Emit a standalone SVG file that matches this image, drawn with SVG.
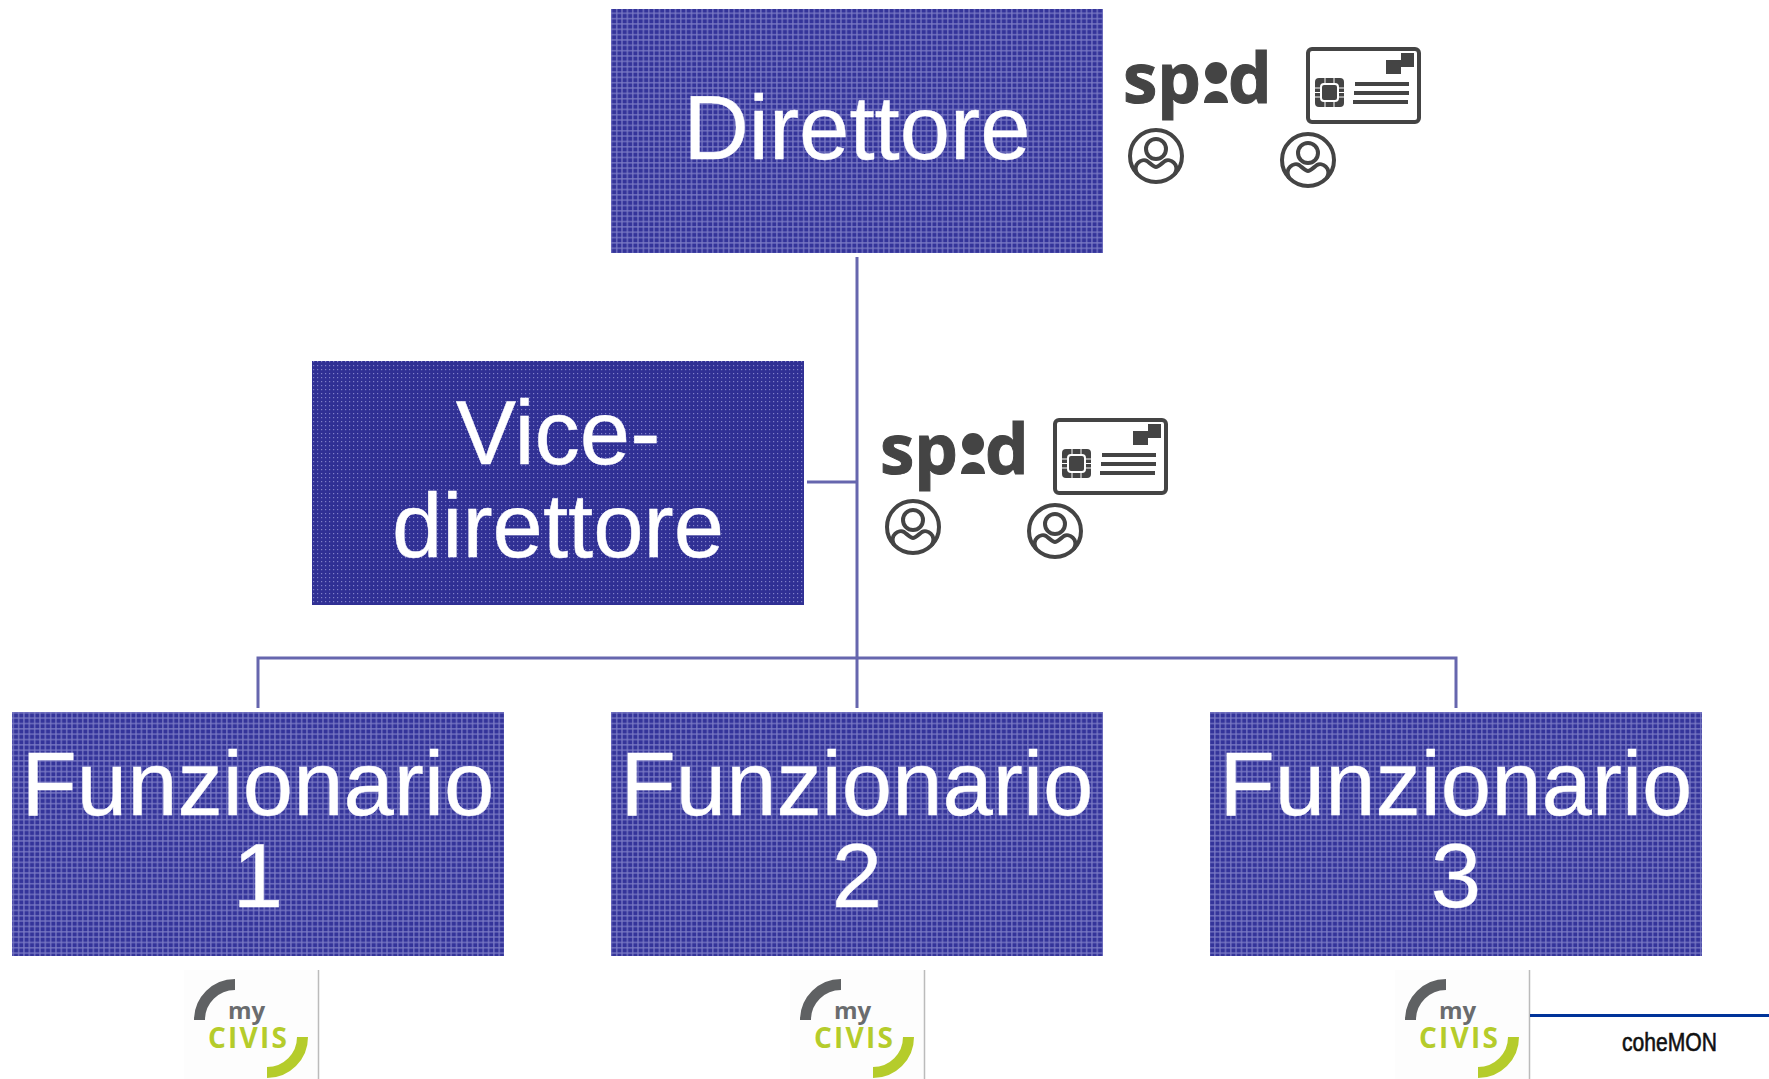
<svg xmlns="http://www.w3.org/2000/svg" width="1769" height="1079" viewBox="0 0 1769 1079">
<style>
.lbl{font-family:"Liberation Sans",Arial,sans-serif;font-size:90.500px;fill:#fff;stroke:#fff;stroke-width:.4px;text-anchor:middle}
.spd{font-family:"Open Sans","Noto Sans",sans-serif;font-weight:700;font-size:69px;fill:#444;stroke:#444;stroke-width:1px}
.ic{fill:none;stroke:#444;stroke-width:4}
.conn{fill:none;stroke:#6666ae;stroke-width:3}
.my{font-family:"Open Sans","Noto Sans",sans-serif;font-weight:700;font-size:24px;fill:#6a6c6e}
.civis{font-family:"Open Sans","Noto Sans",sans-serif;font-weight:700;font-size:28px;letter-spacing:2.200px;fill:#b5cc2b}
</style>
<defs>
<pattern id="p1" width="5.34" height="5.34" patternUnits="userSpaceOnUse">
<rect width="5.34" height="5.34" fill="#34349a"/>
<rect x="0" y="2" width="5.34" height="1.200" fill="#7c7cc6"/>
<rect x="2" y="0" width="1.200" height="5.34" fill="#7c7cc6"/>
</pattern>
<pattern id="p2" width="4" height="4" patternUnits="userSpaceOnUse">
<rect width="4" height="4" fill="#303094"/>
<rect x="1" y="1" width="1.200" height="1.200" fill="#8080c8"/>
</pattern>
<g id="person">
<circle cx="0" cy="0" r="26" class="ic"/>
<circle cx="0" cy="-7" r="10" class="ic"/>
<path d="M-19 18C-24 8-14 2-9 5C-5 8-2 11 0 11C2 11 5 8 9 5C14 2 24 8 19 18" class="ic"/>
</g>
<g id="card">
<rect x="1" y="1" width="111" height="73" rx="4" class="ic"/>
<path d="M86 12h15v-7h13v14h-13v7h-15z" fill="#444" transform="translate(-7 0)"/>
<rect x="8" y="30" width="29" height="29" rx="4" fill="#444"/>
<path d="M8 40h6M8 44.500h6M8 49h6M31 40h6M31 44.500h6M31 49h6M18 30v5M27 30v5M18 54v5M27 54v5" stroke="#fff" stroke-width="1"/>
<rect x="14" y="36" width="17" height="17" rx="3" fill="#444" stroke="#fff" stroke-width="2"/>
<path d="M48 36h54M47 45h55M46 54h55" class="ic" stroke-width="3"/>
</g>
</defs>
<g id="connectors">
<path class="conn" d="M857 257V658M807 482H857M258 708V658H1456V708M857 658V708"/>
</g>
<g id="direttore"><rect x="611" y="9" width="492" height="244" fill="url(#p1)"/><text class="lbl" x="857" y="159">Direttore</text></g>
<g id="vice"><rect x="312" y="361" width="492" height="244" fill="url(#p2)"/><text class="lbl" x="558" y="464">Vice-</text><text class="lbl" x="558" y="557">direttore</text></g>
<g id="funz1"><rect x="12" y="712" width="492" height="244" fill="url(#p1)"/><text class="lbl" x="258" y="815">Funzionario</text><text class="lbl" x="258" y="907">1</text></g>
<g id="funz2"><rect x="611" y="712" width="492" height="244" fill="url(#p1)"/><text class="lbl" x="857" y="815">Funzionario</text><text class="lbl" x="857" y="907">2</text></g>
<g id="funz3"><rect x="1210" y="712" width="492" height="244" fill="url(#p1)"/><text class="lbl" x="1456" y="815">Funzionario</text><text class="lbl" x="1456" y="907">3</text></g>
<g id="icons1">
<text class="spd" y="103"><tspan x="1123">sp</tspan><tspan x="1228">d</tspan></text>
<circle cx="1216" cy="73" r="11" fill="#444"/><path d="M1204 103a12 12 0 0 1 24 0z" fill="#444"/>
<use href="#card" x="1307" y="48"/><use href="#person" x="1156" y="156"/><use href="#person" x="1308" y="160"/>
</g>
<g id="icons2" transform="translate(-243 371)">
<text class="spd" y="103"><tspan x="1123">sp</tspan><tspan x="1228">d</tspan></text>
<circle cx="1216" cy="73" r="11" fill="#444"/><path d="M1204 103a12 12 0 0 1 24 0z" fill="#444"/>
<use href="#card" x="1297" y="48"/><use href="#person" x="1156" y="156"/><use href="#person" x="1298" y="160"/>
</g>
<g id="civis1" transform="translate(-1211 0)"><rect x="1395" y="970" width="134" height="109" fill="#fdfdfd"/><path d="M1529.500 970V1079" stroke="#bbb" stroke-width="1.500"/><path d="M1410.500 1020A35.500 35.500 0 0 1 1446 984.500" fill="none" stroke="#5f6163" stroke-width="11"/><path d="M1513.500 1037A35.500 35.500 0 0 1 1478 1072.500" fill="none" stroke="#b5cc2b" stroke-width="11"/><text class="my" x="1439" y="1019">my</text><text class="civis" x="1419" y="1048">CIVIS</text></g>
<g id="civis2" transform="translate(-605 0)"><rect x="1395" y="970" width="134" height="109" fill="#fdfdfd"/><path d="M1529.500 970V1079" stroke="#bbb" stroke-width="1.500"/><path d="M1410.500 1020A35.500 35.500 0 0 1 1446 984.500" fill="none" stroke="#5f6163" stroke-width="11"/><path d="M1513.500 1037A35.500 35.500 0 0 1 1478 1072.500" fill="none" stroke="#b5cc2b" stroke-width="11"/><text class="my" x="1439" y="1019">my</text><text class="civis" x="1419" y="1048">CIVIS</text></g>
<g id="civis3"><rect x="1395" y="970" width="134" height="109" fill="#fdfdfd"/><path d="M1529.500 970V1079" stroke="#bbb" stroke-width="1.500"/><path d="M1410.500 1020A35.500 35.500 0 0 1 1446 984.500" fill="none" stroke="#5f6163" stroke-width="11"/><path d="M1513.500 1037A35.500 35.500 0 0 1 1478 1072.500" fill="none" stroke="#b5cc2b" stroke-width="11"/><text class="my" x="1439" y="1019">my</text><text class="civis" x="1419" y="1048">CIVIS</text></g>
<g id="cohemon"><path d="M1530 1015.500H1769" stroke="#003399" stroke-width="3"/><text x="1622" y="1051" font-family="'Liberation Sans Narrow','Liberation Sans',sans-serif" font-size="25" fill="#111" stroke="#111" stroke-width=".6" textLength="95" lengthAdjust="spacingAndGlyphs">coheMON</text></g>
</svg>
